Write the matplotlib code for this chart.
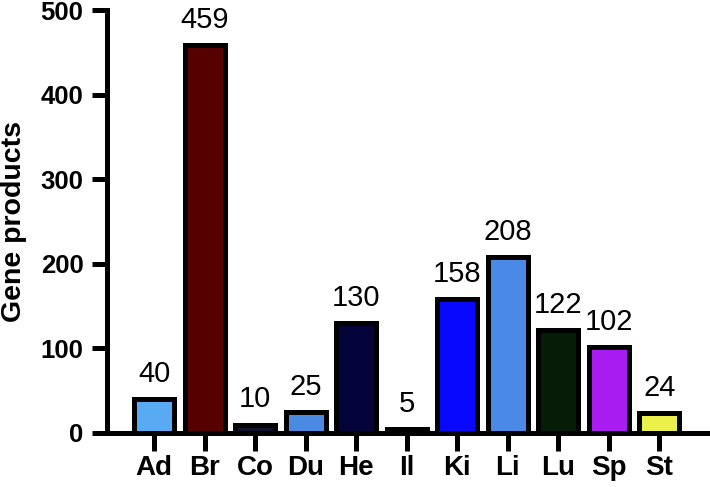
import matplotlib
matplotlib.use("Agg")
import matplotlib.pyplot as plt

categories = ["Ad", "Br", "Co", "Du", "He", "Il", "Ki", "Li", "Lu", "Sp", "St"]
values = [40, 459, 10, 25, 130, 5, 158, 208, 122, 102, 24]
colors = ["#58aaf2", "#560000", "#101030", "#4a8ae2", "#04043a", "#202020",
          "#0808ff", "#4a8ae6", "#061c06", "#a81cf2", "#ecf04a"]
yticks = [0, 100, 200, 300, 400, 500]

plt.rcParams['font.family'] = ['Liberation Sans', 'DejaVu Sans']

fig = plt.figure(figsize=(7.10, 4.87), dpi=100)
ax = fig.add_axes([107/710, 1-433/487, (710-107)/710, (433-10)/487])

x = list(range(len(categories)))
bars = ax.bar(x, values, width=0.79, color=colors, edgecolor="black",
              linewidth=3.6, zorder=3, clip_on=False)
for xi, v in zip(x, values):
    ax.annotate(str(v), (xi, v), xytext=(0, 8), textcoords="offset points",
                ha="center", va="bottom", fontsize=21)

ax.set_xlim(-0.93, 11.0)
ax.set_ylim(0, 500)
ax.set_xticks(x)
ax.set_xticklabels(categories, fontsize=20, fontweight="bold")
ax.set_yticks(yticks)
ax.set_yticklabels([str(t) for t in yticks], fontsize=18.5, fontweight="bold")
ax.set_ylabel("Gene products", fontsize=20.5, fontweight="bold", labelpad=10)

for s in ["top", "right"]:
    ax.spines[s].set_visible(False)
for s in ["left", "bottom"]:
    ax.spines[s].set_linewidth(3.6)
    ax.spines[s].set_zorder(4)
ax.tick_params(axis="y", length=11, width=3.6, pad=6)
ax.tick_params(axis="x", length=13, width=3.6, pad=3)

fig.savefig("out.png", dpi=100)
